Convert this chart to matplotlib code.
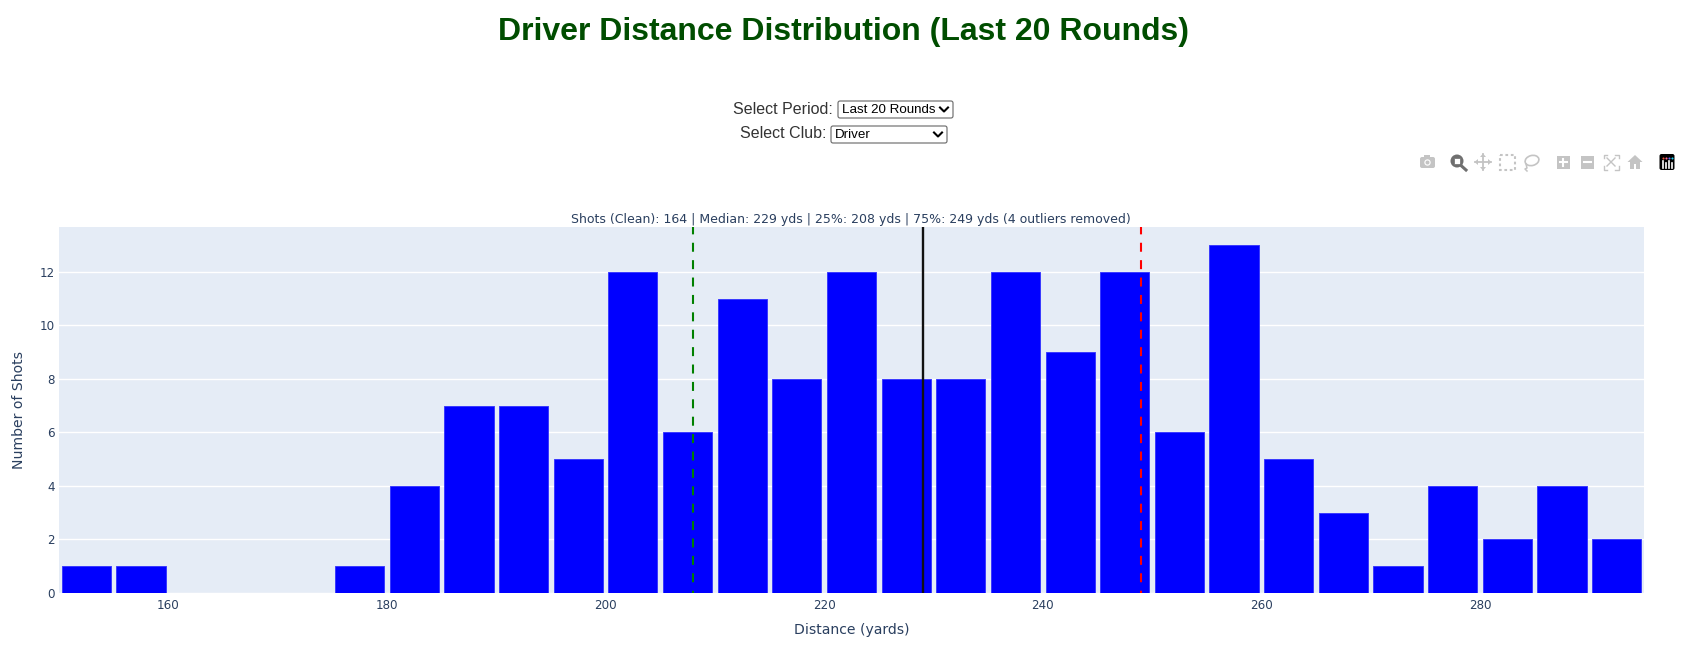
import numpy as np
import matplotlib
matplotlib.use('Agg')
import matplotlib.pyplot as plt
from matplotlib.patches import Rectangle, FancyBboxPatch, Circle, Ellipse, Polygon

# data, 5 yard bins from 150
bin_starts = [150, 155, 160, 165, 170, 175, 180, 185, 190, 195, 200, 205, 210, 215, 220, 225,
              230, 235, 240, 245, 250, 255, 260, 265, 270, 275, 280, 285, 290]
counts = [1, 1, 0, 0, 0, 1, 4, 7, 7, 5, 12, 6, 11, 8, 12, 8,
          8, 12, 9, 12, 6, 13, 5, 3, 1, 4, 2, 4, 2]
p25, median, p75 = 208, 229, 249
x_ticks = [160, 180, 200, 220, 240, 260, 280]
y_ticks = [0, 2, 4, 6, 8, 10, 12]

title = 'Driver Distance Distribution (Last 20 Rounds)'
stats = 'Shots (Clean): 164 | Median: 229 yds | 25%: 208 yds | 75%: 249 yds (4 outliers removed)'

W, H = 1684, 654
SANS = ['Liberation Sans', 'DejaVu Sans']
PLOTLY = ['DejaVu Sans']
INK = '#2a3f5f'
DASH = (3.2, (4.32, 4.03))

fig = plt.figure(figsize=(W / 100, H / 100), dpi=100, facecolor='white')

# plot area, pixels
L, R, T, B = 59, 1644, 227, 593
ax = fig.add_axes([L / W, 1 - B / H, (R - L) / W, (B - T) / H], facecolor='#E5ECF6')
ax.bar(bin_starts, counts, width=4.5, align='edge', color='#0000ff', edgecolor='#3a3aff',
       linewidth=0.7, zorder=3)
for b in ax.patches:
    b.set_x(b.get_x() + 0.25)
ax.axvline(p25, color='green', lw=1.5, ls=DASH, zorder=4)
ax.axvline(median, color='#111111', lw=1.7, zorder=4)
ax.axvline(p75, color='red', lw=1.5, ls=DASH, zorder=4)

ax.set_xlim(150, 295)
ax.set_ylim(0, 13.68)
ax.set_xticks(x_ticks)
ax.set_yticks(y_ticks)
ax.grid(axis='y', color='white', lw=1, zorder=1)
ax.set_axisbelow(True)
ax.tick_params(length=0, labelsize=8.6, labelcolor=INK, pad=4)
ax.tick_params(axis='y', pad=3)
for lab in ax.get_xticklabels() + ax.get_yticklabels():
    lab.set_family(PLOTLY)
for s in ax.spines.values():
    s.set_visible(False)
ax.set_xlabel('Distance (yards)', family=PLOTLY, fontsize=10.05, color=INK)
ax.set_ylabel('Number of Shots', family=PLOTLY, fontsize=10.05, color=INK)
ax.xaxis.set_label_coords(0.5, -0.082)
ax.yaxis.set_label_coords(-0.0207, 0.5)

# page furniture drawn in pixel coordinates
ov = fig.add_axes([0, 0, 1, 1], facecolor='none')
ov.set_xlim(0, W)
ov.set_ylim(H, 0)
ov.axis('off')

ov.text(843.5, 32, title, family=SANS, weight='bold', fontsize=23, color='#004d00',
        ha='center', va='center')
ov.text(851, 220, stats, family=PLOTLY, fontsize=9.0, color=INK, ha='center', va='center')


def select_box(x0, x1, y0, y1, label, value):
    ov.add_patch(FancyBboxPatch((x0, y0), x1 - x0, y1 - y0, boxstyle='round,pad=0,rounding_size=2',
                                fc='white', ec='#666666', lw=0.8))
    ov.text(x0 - 5, (y0 + y1) / 2 - 0.5, label, family=SANS, fontsize=11.5, color='#333333',
            ha='right', va='center')
    ov.text(x0 + 4, (y0 + y1) / 2 + 0.3, value, family=SANS, fontsize=9.6, color='black',
            ha='left', va='center')
    cx = x1 - 9
    cy = (y0 + y1) / 2
    ov.plot([cx - 4, cx, cx + 4], [cy - 2, cy + 2, cy - 2], color='black', lw=1.5)


select_box(838, 953, 101, 118, 'Select Period:', 'Last 20 Rounds')
select_box(831, 947, 126, 143, 'Select Club:', 'Driver')

# modebar icons
GREY = '#c4c4c4'
DARK = '#6f6f6f'
cy = 162
# camera
ov.add_patch(FancyBboxPatch((1420, cy - 5), 15, 11, boxstyle='round,pad=0,rounding_size=2', fc=GREY, ec='none'))
ov.add_patch(Rectangle((1424, cy - 7.5), 6, 3, fc=GREY, ec='none'))
ov.add_patch(Circle((1427.5, cy + 0.5), 3.2, fc='white', ec='none'))
ov.add_patch(Circle((1427.5, cy + 0.5), 2, fc=GREY, ec='none'))
# zoom (active)
ov.add_patch(Circle((1457, cy - 1), 6.5, fc=DARK, ec='none'))
ov.add_patch(Rectangle((1453.7, cy - 4.3), 6.6, 6.6, fc='white', ec=DARK, lw=0.5))
ov.plot([1461, 1466], [cy + 3.5, cy + 8], color=DARK, lw=2.2)
# pan
ov.plot([1483, 1483], [cy - 8, cy + 8], color=GREY, lw=1.3)
ov.plot([1475, 1491], [cy, cy], color=GREY, lw=1.3)
ov.add_patch(Polygon([(1480, cy - 5), (1486, cy - 5), (1483, cy - 8.5)], fc=GREY, ec='none'))
ov.add_patch(Polygon([(1480, cy + 5), (1486, cy + 5), (1483, cy + 8.5)], fc=GREY, ec='none'))
ov.add_patch(Polygon([(1478, cy - 3), (1478, cy + 3), (1474.5, cy)], fc=GREY, ec='none'))
ov.add_patch(Polygon([(1488, cy - 3), (1488, cy + 3), (1491.5, cy)], fc=GREY, ec='none'))
# box select
ov.add_patch(Rectangle((1499.5, cy - 7.5), 15, 15, fc='none', ec=GREY, lw=1.5, ls=(0, (1.3, 1.3))))
# lasso
ov.add_patch(Ellipse((1532, cy - 1.5), 14, 10, angle=-15, fc='none', ec=GREY, lw=1.2))
ov.plot([1526, 1527, 1525, 1527], [cy + 2, cy + 6, cy + 7, cy + 9], color=GREY, lw=1.1)
# zoom in / out
for xc, is_plus in [(1563, True), (1587, False)]:
    ov.add_patch(Rectangle((xc - 6.5, cy - 6.5), 13, 13, fc=GREY, ec='none'))
    ov.plot([xc - 3.5, xc + 3.5], [cy, cy], color='white', lw=1.5)
    if is_plus:
        ov.plot([xc, xc], [cy - 3.5, cy + 3.5], color='white', lw=1.5)
# autoscale
xc = 1611
for sx in (-1, 1):
    for sy in (-1, 1):
        ov.plot([xc + sx * 7.5, xc + sx * 7.5, xc + sx * 4], [cy + sy * 4, cy + sy * 7.5, cy + sy * 7.5],
                color=GREY, lw=1)
ov.plot([xc - 4, xc + 4], [cy - 4, cy + 4], color=GREY, lw=1)
ov.plot([xc - 4, xc + 4], [cy + 4, cy - 4], color=GREY, lw=1)
# home
xc = 1635
ov.add_patch(Polygon([(xc - 7.5, cy), (xc, cy - 7), (xc + 7.5, cy)], fc=GREY, ec='none'))
ov.add_patch(Rectangle((xc - 5, cy), 3.8, 6.5, fc=GREY, ec='none'))
ov.add_patch(Rectangle((xc + 1.2, cy), 3.8, 6.5, fc=GREY, ec='none'))
ov.add_patch(Rectangle((xc - 5, cy), 10, 2, fc=GREY, ec='none'))
# plotly logo
xc = 1667
ov.add_patch(FancyBboxPatch((xc - 7.5, cy - 8), 15, 16, boxstyle='round,pad=0,rounding_size=2', fc='black', ec='none'))
for dx, top in [(-4.5, -1), (-1.5, 1), (1.5, -1), (4.5, 1)]:
    ov.plot([xc + dx, xc + dx], [cy + top, cy + 5.5], color='white', lw=1.2)
for dx, col in [(-4.5, '#ef553b'), (-1.5, '#ff6692'), (1.5, '#636efa'), (4.5, '#19d3f3')]:
    ov.plot([xc + dx], [cy - 4], marker='o', ms=1.5, color=col, mew=0)

fig.savefig('out.png', dpi=100, facecolor='white')
